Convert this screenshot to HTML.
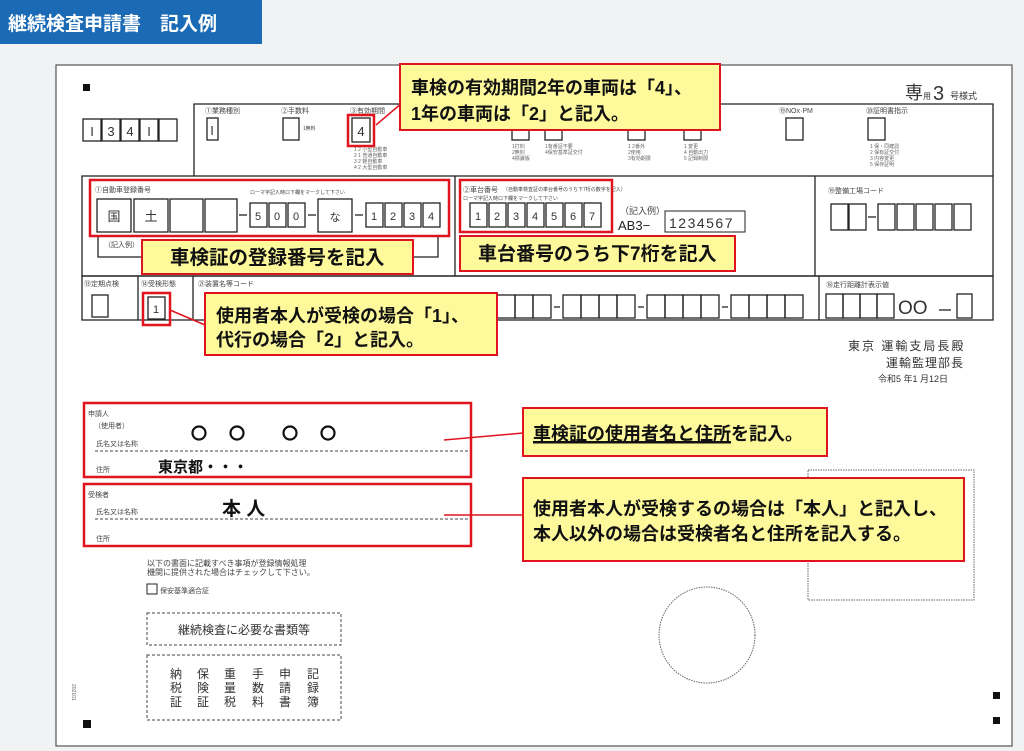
<!DOCTYPE html>
<html><head><meta charset="utf-8"><style>
body{margin:0;width:1024px;height:751px;overflow:hidden;background:#f1f2f4}
svg{display:block}
text{font-family:"Liberation Sans","Noto Sans CJK JP",sans-serif}
</style></head><body>
<svg width="1024" height="751" viewBox="0 0 1024 751" xmlns="http://www.w3.org/2000/svg">
<rect x="0" y="0" width="1024" height="751" fill="#f1f2f4"/>
<rect x="0" y="0" width="262" height="44" fill="#1b6ab5"/>
<text x="8" y="30" font-size="19" font-weight="bold" fill="#fff">継続検査申請書　記入例</text>
<rect x="56" y="65" width="956" height="681" fill="#fff" stroke="#555" stroke-width="1.2"/>
<g fill="#111">
<rect x="83" y="84" width="7" height="7"/><rect x="83" y="720" width="8" height="8"/>
<rect x="993" y="692" width="7" height="7"/><rect x="993" y="717" width="7" height="7"/>
</g>
<g fill="none" stroke="#222" stroke-width="1.3">
<rect x="83" y="119" width="18" height="22"/><rect x="102" y="119" width="18" height="22"/><rect x="121" y="119" width="18" height="22"/><rect x="140" y="119" width="18" height="22"/><rect x="159" y="119" width="18" height="22"/>
<polyline points="194,176 194,104 993,104 993,176"/>
<rect x="82" y="176" width="911" height="100"/>
<line x1="455" y1="176" x2="455" y2="276"/><line x1="815" y1="176" x2="815" y2="276"/>
<rect x="82" y="276" width="911" height="44"/>
<line x1="138" y1="276" x2="138" y2="320"/><line x1="193" y1="276" x2="193" y2="320"/><line x1="819" y1="276" x2="819" y2="320"/>
<rect x="207" y="118" width="11" height="22"/><rect x="283" y="118" width="16" height="22"/>
<rect x="352" y="118" width="18" height="24"/>
<rect x="512" y="118" width="17" height="22"/><rect x="545" y="118" width="17" height="22"/><rect x="628" y="118" width="17" height="22"/><rect x="684" y="118" width="17" height="22"/>
<rect x="786" y="118" width="17" height="22"/><rect x="868" y="118" width="17" height="22"/>
<rect x="97" y="199" width="34" height="33"/><rect x="134" y="199" width="34" height="33"/><rect x="170" y="199" width="33" height="33"/><rect x="205" y="199" width="32" height="33"/>
<rect x="250" y="203" width="17" height="24"/><rect x="269" y="203" width="17" height="24"/><rect x="288" y="203" width="17" height="24"/>
<rect x="318" y="199" width="34" height="33"/>
<rect x="366" y="203" width="17" height="24"/><rect x="385" y="203" width="17" height="24"/><rect x="404" y="203" width="17" height="24"/><rect x="423" y="203" width="17" height="24"/>
<polyline points="98,236 98,257 438,257 438,236"/>
<rect x="470" y="203" width="17" height="24"/><rect x="489" y="203" width="17" height="24"/><rect x="508" y="203" width="17" height="24"/><rect x="527" y="203" width="17" height="24"/><rect x="546" y="203" width="17" height="24"/><rect x="565" y="203" width="17" height="24"/><rect x="584" y="203" width="17" height="24"/>
<rect x="665" y="211" width="80" height="21" stroke-width="1"/>
<rect x="831" y="204" width="17" height="26"/><rect x="849" y="204" width="17" height="26"/>
<rect x="878" y="204" width="17" height="26"/><rect x="897" y="204" width="17" height="26"/><rect x="916" y="204" width="17" height="26"/><rect x="935" y="204" width="17" height="26"/><rect x="954" y="204" width="17" height="26"/>
<rect x="92" y="295" width="16" height="22"/><rect x="148" y="297" width="17" height="22"/>
<rect x="497" y="295" width="18" height="23"/><rect x="515" y="295" width="18" height="23"/><rect x="533" y="295" width="18" height="23"/>
<rect x="563" y="295" width="18" height="23"/><rect x="581" y="295" width="18" height="23"/><rect x="599" y="295" width="18" height="23"/><rect x="617" y="295" width="18" height="23"/>
<rect x="647" y="295" width="18" height="23"/><rect x="665" y="295" width="18" height="23"/><rect x="683" y="295" width="18" height="23"/><rect x="701" y="295" width="18" height="23"/>
<rect x="731" y="295" width="18" height="23"/><rect x="749" y="295" width="18" height="23"/><rect x="767" y="295" width="18" height="23"/><rect x="785" y="295" width="18" height="23"/>
<rect x="826" y="294" width="17" height="24"/><rect x="843" y="294" width="17" height="24"/><rect x="860" y="294" width="17" height="24"/><rect x="877" y="294" width="17" height="24"/>
<rect x="957" y="294" width="15" height="24"/>
<rect x="147" y="584" width="10" height="10" stroke-width="1"/>
</g>
<g stroke="#222" stroke-width="1.3">
<line x1="239" y1="215" x2="247" y2="215"/><line x1="308" y1="215" x2="316" y2="215"/><line x1="355" y1="215" x2="363" y2="215"/>
<line x1="868" y1="217" x2="876" y2="217"/>
<line x1="554" y1="307" x2="560" y2="307"/><line x1="638" y1="307" x2="644" y2="307"/><line x1="722" y1="307" x2="728" y2="307"/>
<line x1="939" y1="310" x2="951" y2="310"/>
</g>
<g font-size="7" fill="#444">
<text x="205" y="113">①業務種別</text><text x="281" y="113">②手数料</text><text x="350" y="113">③有効期間</text>
<text x="303" y="130" font-size="5">1無料</text>
<text x="779" y="113">⑲NOx·PM</text><text x="866" y="113">⑳証明書指示</text>
<text x="95" y="192">①自動車登録番号</text><text x="250" y="194" font-size="5">ローマ字記入時ロ下欄をマークして下さい</text>
<text x="463" y="192">②車台番号</text><text x="503" y="191" font-size="5">（自動車検査証の車台番号のうち下7桁の数字を記入）</text>
<text x="463" y="200" font-size="5">ローマ字記入時ロ下欄をマークして下さい</text>
<text x="828" y="193">⑲整備工場コード</text>
<text x="104" y="247">（記入例）</text>
<text x="84" y="286">⑬定期点検</text><text x="141" y="286">⑭受検形態</text><text x="198" y="286">㉑装置名等コード</text><text x="826" y="287">⑱走行距離計表示値</text>
<text x="88" y="416">申請人</text><text x="94" y="428">（使用者）</text><text x="96" y="446">氏名又は名称</text><text x="96" y="472">住所</text>
<text x="88" y="497">受検者</text><text x="96" y="514">氏名又は名称</text><text x="96" y="541">住所</text>
<text x="147" y="566" font-size="8">以下の書面に記載すべき事項が登録情報処理</text>
<text x="147" y="575" font-size="8">機関に提供された場合はチェックして下さい。</text>
<text x="160" y="593">保安基準適合証</text>
</g>
<g font-size="5" fill="#666">
<text x="354" y="151">1 2 小型自動車</text><text x="354" y="157">2 1 普通自動車</text><text x="354" y="163">3 2 軽自動車</text><text x="354" y="169">4 2 大型自動車</text>
<text x="512" y="148">1打刻</text><text x="512" y="154">2無刻</text><text x="512" y="160">4標識版</text>
<text x="545" y="148">1有番証不要</text><text x="545" y="154">4保安基準証交付</text>
<text x="628" y="148">1 2番外</text><text x="628" y="154">2使用</text><text x="628" y="160">3有効期限</text>
<text x="684" y="148">1 変更</text><text x="684" y="154">4 自動出力</text><text x="684" y="160">5 記録制限</text>
<text x="870" y="148">1 保・同確認</text><text x="870" y="154">2 保有証交付</text><text x="870" y="160">3 内容変更</text><text x="870" y="166">5 保存証明</text>
</g>
<g font-size="13" fill="#333" text-anchor="middle">
<text x="92" y="136">I</text><text x="111" y="136">3</text><text x="130" y="136">4</text><text x="149" y="136">I</text>
<text x="212" y="135">I</text><text x="361" y="136">4</text>
<text x="114" y="221">国</text><text x="151" y="221">土</text><text x="335" y="221" font-size="11">な</text>
<text x="258" y="220" font-size="11">5</text><text x="277" y="220" font-size="11">0</text><text x="296" y="220" font-size="11">0</text>
<text x="374" y="220" font-size="11">1</text><text x="393" y="220" font-size="11">2</text><text x="412" y="220" font-size="11">3</text><text x="431" y="220" font-size="11">4</text>
<text x="478" y="220" font-size="11">1</text><text x="497" y="220" font-size="11">2</text><text x="516" y="220" font-size="11">3</text><text x="535" y="220" font-size="11">4</text><text x="554" y="220" font-size="11">5</text><text x="573" y="220" font-size="11">6</text><text x="592" y="220" font-size="11">7</text>
<text x="156" y="313" font-size="11" font-family="Liberation Serif">1</text>
</g>
<text x="620" y="214" font-size="9" fill="#444">（記入例）</text>
<text x="618" y="230" font-size="13" fill="#222">AB3−</text>
<text x="669" y="228" font-size="14" fill="#333" letter-spacing="1.5">1234567</text>
<text x="905" y="99" font-size="18" fill="#333">専</text><text x="923" y="99" font-size="8" fill="#333">用</text><text x="933" y="100" font-size="20" fill="#333">3</text><text x="950" y="99" font-size="9" fill="#333">号様式</text>
<text x="898" y="314" font-size="19" fill="#333">OO</text>
<text x="848" y="350" font-size="12" fill="#333" letter-spacing="2">東京 運輸支局長殿</text>
<text x="886" y="367" font-size="12" fill="#333" letter-spacing="1">運輸監理部長</text>
<text x="878" y="382" font-size="9" fill="#333">令和5  年1  月12日</text>
<g stroke="#444" stroke-dasharray="3,2" fill="none" stroke-width="1">
<line x1="95" y1="451" x2="468" y2="451"/><line x1="95" y1="519" x2="468" y2="519"/>
<rect x="147" y="613" width="194" height="32"/><rect x="147" y="655" width="194" height="65"/>
</g>
<g stroke="#666" stroke-dasharray="1.5,1" fill="none" stroke-width="1">
<rect x="808" y="470" width="166" height="130"/><circle cx="707" cy="635" r="48"/>
</g>
<text x="244" y="634" font-size="12" fill="#333" text-anchor="middle">継続検査に必要な書類等</text>
<g font-size="12" fill="#333" text-anchor="middle">
<text x="176" y="678">納</text><text x="176" y="692">税</text><text x="176" y="706">証</text>
<text x="203" y="678">保</text><text x="203" y="692">険</text><text x="203" y="706">証</text>
<text x="230" y="678">重</text><text x="230" y="692">量</text><text x="230" y="706">税</text>
<text x="258" y="678">手</text><text x="258" y="692">数</text><text x="258" y="706">料</text>
<text x="285" y="678">申</text><text x="285" y="692">請</text><text x="285" y="706">書</text>
<text x="313" y="678">記</text><text x="313" y="692">録</text><text x="313" y="706">簿</text>
</g>
<text x="0" y="0" font-size="5" fill="#666" transform="translate(72,684) rotate(90)">202101</text>
<g fill="none" stroke="#111" stroke-width="2.2">
<circle cx="199" cy="433" r="6.5"/><circle cx="237" cy="433" r="6.5"/><circle cx="290" cy="433" r="6.5"/><circle cx="328" cy="433" r="6.5"/>
</g>
<text x="158" y="472" font-size="15" font-weight="bold" fill="#111">東京都・・・</text>
<text x="222" y="515" font-size="19" font-weight="bold" fill="#111">本  人</text>
<g fill="none" stroke="#e0141e" stroke-width="2.5">
<rect x="348" y="115" width="26" height="31"/>
<rect x="90" y="180" width="359" height="56"/>
<rect x="460" y="180" width="152" height="52"/>
<rect x="143" y="293" width="27" height="32"/>
<rect x="84" y="403" width="387" height="74"/>
<rect x="84" y="484" width="387" height="62"/>
</g>
<g stroke="#e0141e" stroke-width="1.5">
<line x1="376" y1="125" x2="402" y2="103"/>
<line x1="170" y1="310" x2="205" y2="325"/>
<line x1="444" y1="440" x2="523" y2="433"/>
<line x1="444" y1="515" x2="523" y2="515"/>
</g>
<g fill="#fefa9c" stroke="#e0141e" stroke-width="2">
<rect x="400" y="64" width="320" height="66"/>
<rect x="142" y="240" width="271" height="34"/>
<rect x="460" y="236" width="275" height="35"/>
<rect x="205" y="293" width="292" height="62"/>
<rect x="523" y="408" width="304" height="48"/>
<rect x="523" y="478" width="441" height="83"/>
</g>
<g font-size="18" font-weight="bold" fill="#111">
<text x="411" y="94">車検の有効期間2年の車両は「4」、</text>
<text x="411" y="120">1年の車両は「2」と記入。</text>
<text x="170" y="264" font-size="19.5">車検証の登録番号を記入</text>
<text x="478" y="260" font-size="19">車台番号のうち下7桁を記入</text>
<text x="216" y="322">使用者本人が受検の場合「1」、</text>
<text x="216" y="346">代行の場合「2」と記入。</text>
<text x="533" y="440"><tspan text-decoration="underline">車検証の使用者名と住所</tspan>を記入。</text>
<text x="533" y="515">使用者本人が受検するの場合は「本人」と記入し、</text>
<text x="533" y="540">本人以外の場合は受検者名と住所を記入する。</text>
</g>
<line x1="533" y1="443" x2="731" y2="443" stroke="#111" stroke-width="1"/>
</svg>
</body></html>
